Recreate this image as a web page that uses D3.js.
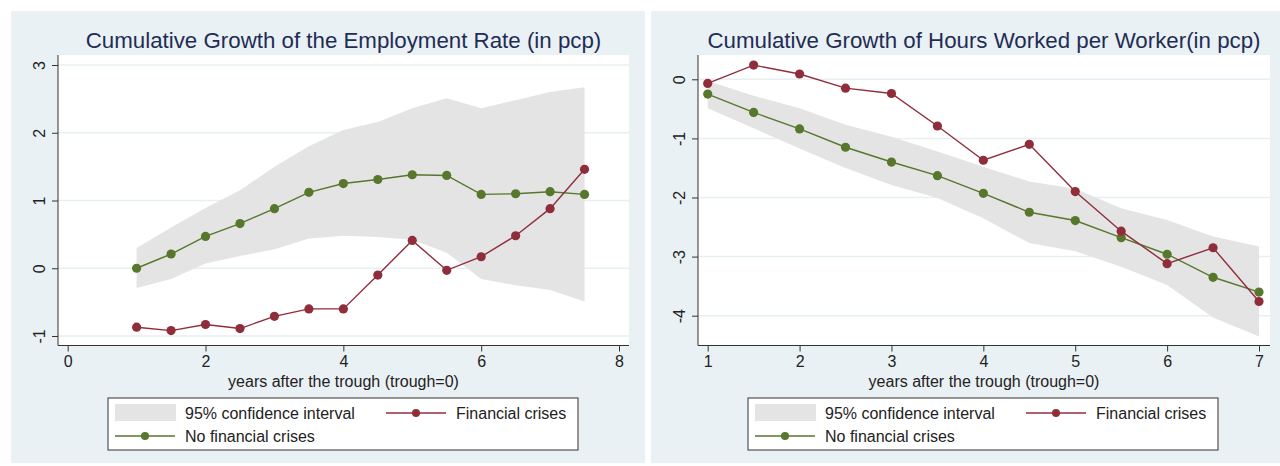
<!DOCTYPE html>
<html>
<head>
<meta charset="utf-8">
<script src="https://d3js.org/d3.v7.min.js"></script>
<style>
  body { margin: 0; background: #fff; }
  text { font-family: "Liberation Sans", Arial, sans-serif; }
</style>
</head>
<body>
<div id="chart"></div>
<script>
// ---- data ----
var empX = [1, 1.5, 2, 2.5, 3, 3.5, 4, 4.5, 5, 5.5, 6, 6.5, 7, 7.5];
var empFin = [-0.87, -0.92, -0.83, -0.89, -0.71, -0.6, -0.6, -0.1, 0.41, -0.03, 0.17, 0.48, 0.88, 1.46];
var empNoFin = [0.0, 0.21, 0.47, 0.66, 0.88, 1.12, 1.25, 1.31, 1.38, 1.37, 1.09, 1.1, 1.13, 1.09];
var empLo = [-0.29, -0.16, 0.07, 0.18, 0.28, 0.44, 0.48, 0.46, 0.42, 0.23, -0.16, -0.25, -0.32, -0.49];
var empHi = [0.3, 0.6, 0.89, 1.15, 1.5, 1.8, 2.04, 2.16, 2.36, 2.51, 2.36, 2.48, 2.6, 2.67];
var empXTicks = [0, 2, 4, 6, 8];
var empYTicks = [-1, 0, 1, 2, 3];

var hrsX = [1, 1.5, 2, 2.5, 3, 3.5, 4, 4.5, 5, 5.5, 6, 6.5, 7];
var hrsFin = [-0.07, 0.24, 0.09, -0.15, -0.24, -0.79, -1.37, -1.1, -1.9, -2.57, -3.12, -2.85, -3.76];
var hrsNoFin = [-0.25, -0.56, -0.84, -1.15, -1.4, -1.63, -1.93, -2.25, -2.39, -2.68, -2.96, -3.35, -3.6];
var hrsLo = [-0.49, -0.83, -1.17, -1.5, -1.79, -2.01, -2.35, -2.77, -2.91, -3.17, -3.48, -4.03, -4.35];
var hrsHi = [-0.03, -0.28, -0.49, -0.77, -0.97, -1.22, -1.48, -1.73, -1.85, -2.18, -2.38, -2.66, -2.83];
var hrsXTicks = [1, 2, 3, 4, 5, 6, 7];
var hrsYTicks = [-4, -3, -2, -1, 0];

var legendLabels = ["95% confidence interval", "Financial crises", "No financial crises"];
var xTitle = "years after the trough (trough=0)";

var red = "#902d3b", green = "#56772c", band = "#e4e4e4",
    panelBg = "#eaf1f4", grid = "#e6eff2", titleColor = "#1f2d55";

var svg = d3.select("#chart").append("svg")
  .attr("width", 1280).attr("height", 466);

function drawPanel(opt) {
  var g = svg.append("g").attr("transform", "translate(" + opt.left + ",0)");

  g.append("rect").attr("x", 0).attr("y", 11)
    .attr("width", opt.panelW).attr("height", 452).attr("fill", panelBg);

  // plot region
  var p = {x0: 47, x1: 47 + opt.plotW, y0: 55, y1: 345.5};
  g.append("rect").attr("x", p.x0).attr("y", p.y0)
    .attr("width", p.x1 - p.x0).attr("height", p.y1 - p.y0).attr("fill", "#fff");

  var x = d3.scaleLinear().domain(opt.xDomain).range(opt.xRange);
  var y = d3.scaleLinear().domain(opt.yDomain).range(opt.yRange);

  // gridlines
  g.selectAll(".grid").data(opt.yTicks).enter().append("line")
    .attr("x1", p.x0).attr("x2", p.x1)
    .attr("y1", function(d) { return y(d); }).attr("y2", function(d) { return y(d); })
    .attr("stroke", grid).attr("stroke-width", 1.5);

  // confidence band
  var area = d3.area()
    .x(function(d, i) { return x(opt.xs[i]); })
    .y0(function(d, i) { return y(opt.lo[i]); })
    .y1(function(d, i) { return y(opt.hi[i]); });
  g.append("path").datum(opt.xs).attr("d", area).attr("fill", band);

  function series(vals, color) {
    var line = d3.line()
      .x(function(d, i) { return x(opt.xs[i]); })
      .y(function(d) { return y(d); });
    g.append("path").datum(vals).attr("d", line)
      .attr("fill", "none").attr("stroke", color).attr("stroke-width", 1.4);
    g.selectAll(null).data(vals).enter().append("circle")
      .attr("cx", function(d, i) { return x(opt.xs[i]); })
      .attr("cy", function(d) { return y(d); })
      .attr("r", 4.6).attr("fill", color);
  }
  series(opt.noFin, green);
  series(opt.fin, red);

  // axes
  var ya = g.append("g").attr("transform", "translate(" + p.x0 + ",0)")
    .call(d3.axisLeft(y).tickValues(opt.yTicks).tickSize(6).tickFormat(function(d) { return String(d); }));
  ya.select(".domain").attr("d", "M0," + p.y0 + "V" + p.y1).attr("stroke", "#333");
  ya.selectAll(".tick line").attr("stroke", "#333");
  ya.selectAll(".tick text")
    .attr("x", 0).attr("dy", 0)
    .attr("transform", "translate(-19,0) rotate(-90)")
    .attr("text-anchor", "middle").attr("dominant-baseline", "central")
    .attr("font-size", 16).attr("fill", "#222")
    .style("font-family", "Liberation Sans, Arial, sans-serif");

  var xa = g.append("g").attr("transform", "translate(0," + p.y1 + ")")
    .call(d3.axisBottom(x).tickValues(opt.xTicks).tickSize(6).tickPadding(4).tickFormat(function(d) { return String(d); }));
  xa.select(".domain").attr("d", "M" + p.x0 + ",0H" + p.x1).attr("stroke", "#333");
  xa.selectAll(".tick line").attr("stroke", "#333");
  xa.selectAll(".tick text").attr("font-size", 16).attr("fill", "#222")
    .style("font-family", "Liberation Sans, Arial, sans-serif");

  g.append("text").attr("x", (p.x0 + p.x1) / 2).attr("y", 387)
    .attr("text-anchor", "middle").attr("font-size", 16).attr("fill", "#222")
    .text(xTitle);

  // title
  g.append("text").attr("x", (p.x0 + p.x1) / 2).attr("y", 48)
    .attr("text-anchor", "middle").attr("font-size", 22.3).attr("fill", titleColor)
    .text(opt.title);

  // legend
  var lg = g.append("g").attr("transform", "translate(97,398)");
  lg.append("rect").attr("width", 470).attr("height", 52)
    .attr("fill", "#fff").attr("stroke", "#333").attr("stroke-width", 1);
  lg.append("rect").attr("x", 7).attr("y", 6).attr("width", 61).attr("height", 17).attr("fill", band);
  lg.append("text").attr("x", 77).attr("y", 20.5).attr("font-size", 16).attr("fill", "#222").text(legendLabels[0]);
  lg.append("line").attr("x1", 278).attr("x2", 338).attr("y1", 15).attr("y2", 15)
    .attr("stroke", red).attr("stroke-width", 1.4);
  lg.append("circle").attr("cx", 308).attr("cy", 15).attr("r", 4).attr("fill", red);
  lg.append("text").attr("x", 348).attr("y", 20.5).attr("font-size", 16).attr("fill", "#222").text(legendLabels[1]);
  lg.append("line").attr("x1", 7).attr("x2", 67).attr("y1", 38).attr("y2", 38)
    .attr("stroke", green).attr("stroke-width", 1.4);
  lg.append("circle").attr("cx", 37).attr("cy", 38).attr("r", 4).attr("fill", green);
  lg.append("text").attr("x", 77).attr("y", 43.5).attr("font-size", 16).attr("fill", "#222").text(legendLabels[2]);
}

drawPanel({
  left: 11, panelW: 634, plotW: 571,
  title: "Cumulative Growth of the Employment Rate (in pcp)",
  xs: empX, fin: empFin, noFin: empNoFin, lo: empLo, hi: empHi,
  xDomain: [0, 8], xRange: [56.7, 608], xTicks: empXTicks,
  yDomain: [-1, 3], yRange: [336, 65], yTicks: empYTicks
});

drawPanel({
  left: 651, panelW: 629, plotW: 572,
  title: "Cumulative Growth of Hours Worked per Worker(in pcp)",
  xs: hrsX, fin: hrsFin, noFin: hrsNoFin, lo: hrsLo, hi: hrsHi,
  xDomain: [1, 7], xRange: [56.7, 608], xTicks: hrsXTicks,
  yDomain: [-4, 0], yRange: [315.7, 79.3], yTicks: hrsYTicks
});
</script>
</body>
</html>
